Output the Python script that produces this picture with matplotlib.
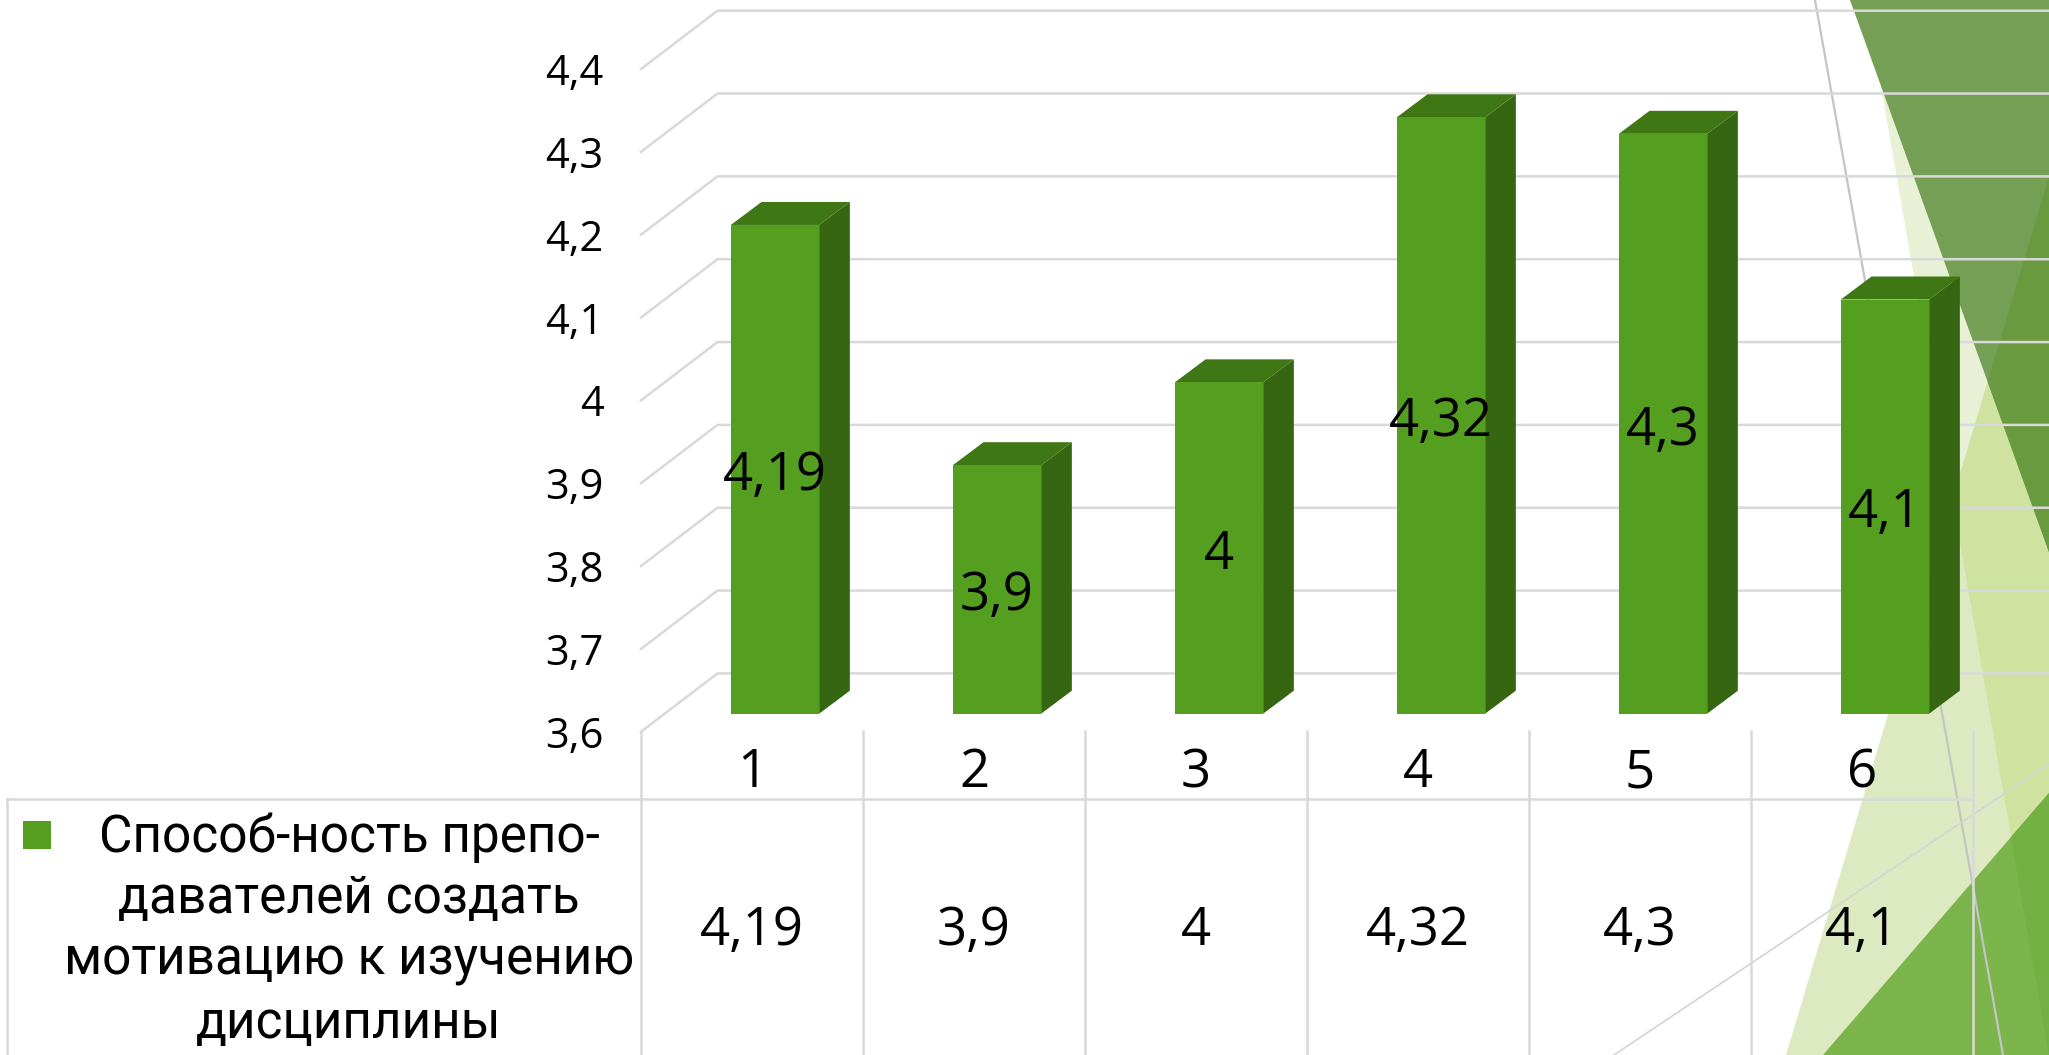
"""3D-style column chart with a data table, on a slide background."""
import matplotlib
matplotlib.use("Agg")
import matplotlib.pyplot as plt
from matplotlib.patches import Polygon

plt.rcParams["font.family"] = ["Open Sans", "DejaVu Sans"]

categories = ["1", "2", "3", "4", "5", "6"]
values = [4.19, 3.9, 4.0, 4.32, 4.3, 4.1]
y_ticks = [3.6, 3.7, 3.8, 3.9, 4.0, 4.1, 4.2, 4.3, 4.4]
series_lines = ["Способ-ность препо-", "давателей создать", "мотивацию к изучению", "дисциплины"]

W, H = 2049, 1055
GRID = "#d9d9d9"
FRONT, SIDE, TOP = "#549e20", "#366612", "#3f7715"

# plot box in pixels, front plane of the chart
LEFT, CELL = 641, 222
Y_36, Y_44 = 731.7, 69.0
# wall depth and bar depth in pixels
WALL_DX, WALL_DY = 76.5, 58.3
BAR_DX, BAR_DY = 30.7, 23.0
BAR_W = 88.3
BAR_OFF_X, BAR_OFF_Y = 23.0 - CELL / 2 + (CELL - BAR_W) / 2, 18.0


def fmt(v):
    return f"{v:g}".replace(".", ",")


fig = plt.figure(figsize=(W / 100, H / 100), dpi=100, facecolor="white")

# slide background, pixel coordinates
bg = fig.add_axes([0, 0, 1, 1])
bg.set_xlim(0, W)
bg.set_ylim(H, 0)
bg.axis("off")


def shape(pts, color, clip=None, z=1):
    p = Polygon(pts, closed=True, facecolor=color, edgecolor="none", zorder=z)
    bg.add_patch(p)
    if clip is not None:
        p.set_clip_path(clip)
    return p


pale = shape([(1866, 0), (W, 0), (W, H)], "#e8f0d5")
tri = shape([(1786, H), (W, 177), (W, H)], "#dde9c0", z=1.1)
shape([(1786, H), (W, 177), (W, H)], "#cfe29f", clip=pale, z=1.2)
dark = shape([(1850, 0), (W, 0), (W, 552)], "#749f55", z=1.3)
shape([(1850, 0), (W, 0), (W, 552)], "#6a9a3f", clip=tri, z=1.4)
low = shape([(1823, H), (W, 793), (W, H)], "#7ab44b", z=1.5)
shape([(1823, H), (W, 793), (W, H)], "#72b042", clip=pale, z=1.6)

bg.plot([1815, 2003], [0, H], color="#c4c4c4", lw=1.6, zorder=2)
bg.plot([1614, W], [H, 764], color="#d4d4d4", lw=1.2, zorder=2)

# main axes: category / value scales
ax = fig.add_axes([LEFT / W, 1 - Y_36 / H, CELL * 6 / W, (Y_36 - Y_44) / H])
ax.patch.set_visible(False)
ax.set_xlim(0.5, 6.5)
ax.set_ylim(y_ticks[0], y_ticks[-1])
for s in ax.spines.values():
    s.set_visible(False)
ax.set_xticks(range(1, 7), categories)
ax.set_yticks(y_ticks, [fmt(t) for t in y_ticks])
ax.tick_params(axis="both", length=0)
ax.tick_params(axis="x", labelsize=38, pad=11)
ax.tick_params(axis="y", labelsize=30, pad=27)

dx_unit = 1 / CELL
dy_unit = (y_ticks[-1] - y_ticks[0]) / (Y_36 - Y_44)

# wall gridlines
for t in y_ticks:
    wx = 0.5 + WALL_DX * dx_unit
    wy = t + WALL_DY * dy_unit
    ax.plot([0.5, wx, 6.5 + (W - LEFT - CELL * 6) * dx_unit], [t, wy, wy],
            color=GRID, lw=1.8, clip_on=False, zorder=2, solid_joinstyle="miter")

# bars with side and top faces, standing at mid depth
lift = BAR_OFF_Y * dy_unit
for i, v in enumerate(values):
    x0 = i + 1 + BAR_OFF_X * dx_unit
    x1 = x0 + BAR_W * dx_unit
    ddx = BAR_DX * dx_unit
    ddy = BAR_DY * dy_unit
    y0 = y_ticks[0] + lift
    y1 = v + lift
    ax.add_patch(Polygon([(x1, y0), (x1 + ddx, y0 + ddy), (x1 + ddx, y1 + ddy), (x1, y1)],
                         facecolor=SIDE, edgecolor="none", zorder=3, clip_on=False))
    ax.add_patch(Polygon([(x0, y1), (x0 + ddx, y1 + ddy), (x1 + ddx, y1 + ddy), (x1, y1)],
                         facecolor=TOP, edgecolor="none", zorder=3, clip_on=False))
    ax.add_patch(Polygon([(x0, y0), (x1, y0), (x1, y1), (x0, y1)],
                         facecolor=FRONT, edgecolor="none", zorder=4, clip_on=False))
    ax.annotate(fmt(v), ((x0 + x1) / 2, (y0 + y1) / 2), xytext=(0, -7), textcoords="offset pixels",
                ha="center", va="center", fontsize=38, color="black", zorder=5)

# data table in pixels, aligned with the categories
TABLE_TOP, TEXT_Y = 799.3, 931
bg.plot([7, LEFT + CELL * 6], [TABLE_TOP, TABLE_TOP], color=GRID, lw=1.8, zorder=2)
bg.plot([7, 7], [TABLE_TOP, H], color=GRID, lw=1.8, zorder=2)
for i in range(7):
    x = LEFT + CELL * i
    bg.plot([x, x], [730.7, H], color=GRID, lw=1.8, zorder=2)
for i, v in enumerate(values):
    bg.text(LEFT + CELL * (i + 0.5), TEXT_Y, fmt(v), ha="center", va="center",
            fontsize=38, color="black", zorder=5)

# legend key and series name
shape([(23, 821), (51, 821), (51, 849), (23, 849)], FRONT, z=3)
for line, base_y in zip(series_lines, [852, 913, 975, 1038]):
    bg.text(349, base_y, line, ha="center", va="baseline", fontsize=37, color="black",
            zorder=5, family=["Roboto", "DejaVu Sans"])

fig.savefig("out.png", dpi=100)
plt.close(fig)
